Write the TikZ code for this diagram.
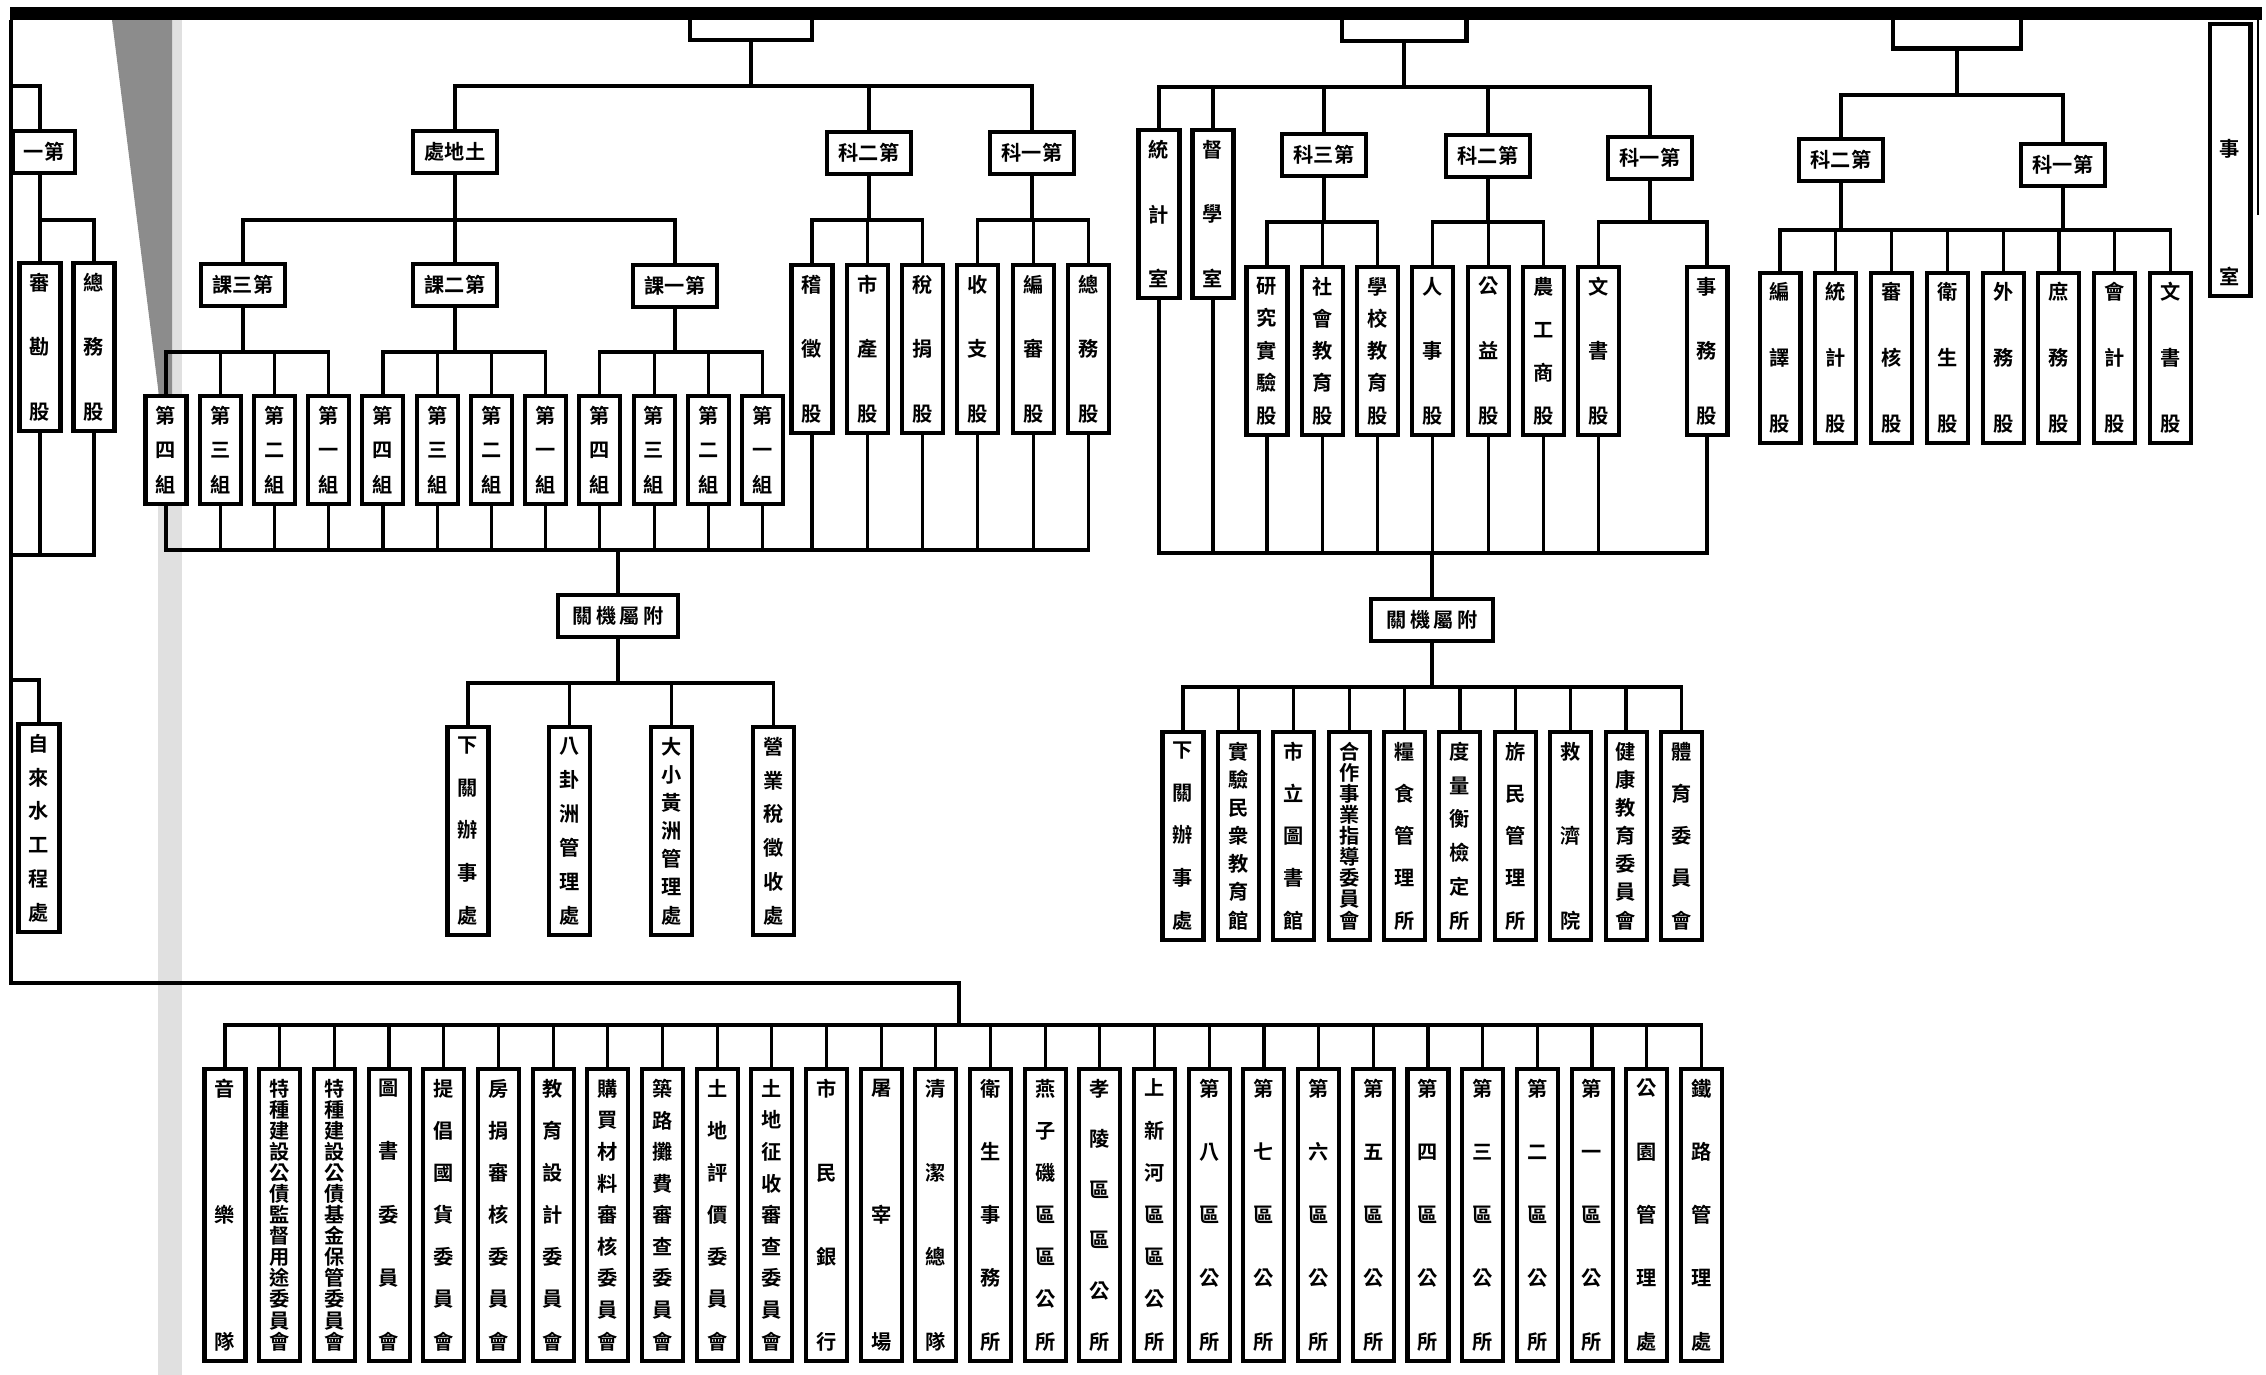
\documentclass[tikz,border=0pt]{standalone}
\usepackage{fontspec}
\newfontfamily\cjk{Noto Sans CJK TC Bold}
\usetikzlibrary{positioning}

% characters of a label set one under another, spread over the box
\ExplSyntaxOn
\NewDocumentCommand \vt { m m }
  {
    \parbox[c][#1][s]{1.2em}
      {
        \seq_clear:N \l_tmpa_seq
        \tl_map_inline:nn {#2}
          { \seq_put_right:Nn \l_tmpa_seq { \hbox_to_wd:nn {1.2em} { \hss ##1 \hss } } }
        \seq_use:Nn \l_tmpa_seq { \vfill }
      }
  }
\ExplSyntaxOff

\tikzset{
  link/.style={line width=1.8pt},
  hd/.style={draw, line width=2.3pt, fill=white, minimum width=1.69cm, minimum height=0.83cm,
    inner sep=1pt, font=\cjk\fontsize{11.5}{11.5}\selectfont},
  chief/.style={draw, line width=2.3pt, fill=white, minimum width=2.5cm, minimum height=0.6cm},
  col/.style={draw, line width=2.3pt, fill=white, minimum width=0.82cm, inner xsep=0pt,
    inner ysep=0.2cm, font=\cjk\fontsize{11.5}{11.5}\selectfont}
}

\begin{document}
\begin{tikzpicture}[x=0.02cm, y=-0.02cm]
  \useasboundingbox (0,0) rectangle (2266,1375);
  % shadow of the binding
  \fill[black!12] (158,20) rectangle (182,1375);
  \fill[black!45] (112,20) -- (172,20) -- (172,420) -- (162,420) -- cycle;
  % heights of the buses
  \coordinate (bL0) at (0,86);  \coordinate (bL1) at (0,220); \coordinate (bL2) at (0,555); \coordinate (bL3) at (0,680);
  \coordinate (bA0) at (0,86);  \coordinate (bA1) at (0,220); \coordinate (bA2) at (0,352);
  \coordinate (bA3) at (0,550); \coordinate (bA4) at (0,683);
  \coordinate (bB0) at (0,87);  \coordinate (bB1) at (0,222); \coordinate (bB2) at (0,553); \coordinate (bB3) at (0,687);
  \coordinate (bC0) at (0,95);  \coordinate (bC1) at (0,230);
  \coordinate (bZ) at (0,1025);
  \coordinate (t0) at (11,20); \coordinate (t1) at (11,983); \coordinate (t2) at (959,983);

  % left edge
  \node[hd, minimum width=1.25cm] (L1) at (44,152) {一第};
  \node[col] (la) at (40,347) {\vt{2.92cm}{審勘股}};
  \node[col] (lb) at (94,347) {\vt{2.92cm}{總務股}};
  \node[col] (ls) at (39,828) {\vt{3.72cm}{自來水工程處}};

  % first bureau
  \node[chief, minimum width=2.45cm, minimum height=0.56cm] (tA) at (751,26) {};
  \node[hd] (ld) at (455,152) {處地土};
  \node[hd] (fA2) at (869,153) {科二第};
  \node[hd] (fA1) at (1032,153) {科一第};
  \node[hd] (s3) at (243,285) {課三第};
  \node[hd] (s2) at (455,285) {課二第};
  \node[hd] (s1) at (675,286) {課一第};
  \node[col] (g34) at (166,450) {\vt{1.72cm}{第四組}};
  \node[col, right=0.184cm of g34] (g33) {\vt{1.72cm}{第三組}};
  \node[col, right=0.184cm of g33] (g32) {\vt{1.72cm}{第二組}};
  \node[col, right=0.184cm of g32] (g31) {\vt{1.72cm}{第一組}};
  \node[col, right=0.184cm of g31] (g24) {\vt{1.72cm}{第四組}};
  \node[col, right=0.184cm of g24] (g23) {\vt{1.72cm}{第三組}};
  \node[col, right=0.184cm of g23] (g22) {\vt{1.72cm}{第二組}};
  \node[col, right=0.184cm of g22] (g21) {\vt{1.72cm}{第一組}};
  \node[col, right=0.184cm of g21] (g14) {\vt{1.72cm}{第四組}};
  \node[col, right=0.184cm of g14] (g13) {\vt{1.72cm}{第三組}};
  \node[col, right=0.184cm of g13] (g12) {\vt{1.72cm}{第二組}};
  \node[col, right=0.184cm of g12] (g11) {\vt{1.72cm}{第一組}};
  \node[col] (a1) at (812,349) {\vt{2.92cm}{稽徵股}};
  \node[col, right=0.205cm of a1] (a2) {\vt{2.92cm}{市產股}};
  \node[col, right=0.205cm of a2] (a3) {\vt{2.92cm}{稅捐股}};
  \node[col, right=0.205cm of a3] (a4) {\vt{2.92cm}{收支股}};
  \node[col, right=0.205cm of a4] (a5) {\vt{2.92cm}{編審股}};
  \node[col, right=0.205cm of a5] (a6) {\vt{2.92cm}{總務股}};
  \node[hd, minimum width=2.4cm] (aA) at (618,616) {關\,機\,屬\,附};
  \node[col] (q1) at (468,831) {\vt{3.72cm}{下關辦事處}};
  \node[col, right=1.135cm of q1] (q2) {\vt{3.72cm}{八卦洲管理處}};
  \node[col, right=1.135cm of q2] (q3) {\vt{3.72cm}{大小黃洲管理處}};
  \node[col, right=1.135cm of q3] (q4) {\vt{3.72cm}{營業稅徵收處}};

  % second bureau
  \node[chief, minimum height=0.52cm] (tB) at (1404,28) {};
  \node[col] (r1) at (1159,214) {\vt{2.94cm}{統計室}};
  \node[col] (r2) at (1213,214) {\vt{2.94cm}{督學室}};
  \node[hd] (eB3) at (1324,155) {科三第};
  \node[hd] (eB2) at (1488,156) {科二第};
  \node[hd] (eB1) at (1650,158) {科一第};
  \node[col] (b31) at (1267,351) {\vt{2.92cm}{研究實驗股}};
  \node[col, right=0.205cm of b31] (b32) {\vt{2.92cm}{社會教育股}};
  \node[col, right=0.205cm of b32] (b33) {\vt{2.92cm}{學校教育股}};
  \node[col, right=0.205cm of b33] (b21) {\vt{2.92cm}{人事股}};
  \node[col, right=0.205cm of b21] (b22) {\vt{2.92cm}{公益股}};
  \node[col, right=0.205cm of b22] (b23) {\vt{2.92cm}{農工商股}};
  \node[col, right=0.205cm of b23] (b11) {\vt{2.92cm}{文書股}};
  \node[col] (b12) at (1707,351) {\vt{2.92cm}{事務股}};
  \node[hd, minimum width=2.45cm] (aB) at (1432,620) {關\,機\,屬\,附};
  \node[col] (p1) at (1183,836) {\vt{3.72cm}{下關辦事處}};
  \node[col, right=0.207cm of p1] (p2) {\vt{3.72cm}{實驗民衆教育館}};
  \node[col, right=0.207cm of p2] (p3) {\vt{3.72cm}{市立圖書館}};
  \node[col, right=0.207cm of p3] (p4) {\vt{3.72cm}{合作事業指導委員會}};
  \node[col, right=0.207cm of p4] (p5) {\vt{3.72cm}{糧食管理所}};
  \node[col, right=0.207cm of p5] (p6) {\vt{3.72cm}{度量衡檢定所}};
  \node[col, right=0.207cm of p6] (p7) {\vt{3.72cm}{旂民管理所}};
  \node[col, right=0.207cm of p7] (p8) {\vt{3.72cm}{救濟院}};
  \node[col, right=0.207cm of p8] (p9) {\vt{3.72cm}{健康教育委員會}};
  \node[col, right=0.207cm of p9] (p10) {\vt{3.72cm}{體育委員會}};

  % third office
  \node[chief, minimum width=2.55cm, minimum height=0.62cm] (tC) at (1957,33) {};
  \node[hd] (cC2) at (1841,160) {科二第};
  \node[hd] (cC1) at (2063,165) {科一第};
  \node[col] (k1) at (1780,358) {\vt{2.98cm}{編譯股}};
  \node[col, right=0.215cm of k1] (k2) {\vt{2.98cm}{統計股}};
  \node[col, right=0.215cm of k2] (k3) {\vt{2.98cm}{審核股}};
  \node[col, right=0.215cm of k3] (k4) {\vt{2.98cm}{衛生股}};
  \node[col, right=0.215cm of k4] (k5) {\vt{2.98cm}{外務股}};
  \node[col, right=0.215cm of k5] (k6) {\vt{2.98cm}{庶務股}};
  \node[col, right=0.215cm of k6] (k7) {\vt{2.98cm}{會計股}};
  \node[col, right=0.215cm of k7] (k8) {\vt{2.98cm}{文書股}};
  \node[col] (rs) at (2230,160) {\parbox[c][5cm][s]{1.2em}{\centering\vspace*{2.1cm}事\par\vfill 室}};

  % bottom row
  \node[col] (z1) at (225,1215) {\vt{5.4cm}{音樂隊}};
  \node[col, right=0.193cm of z1] (z2) {\vt{5.4cm}{特種建設公債監督用途委員會}};
  \node[col, right=0.193cm of z2] (z3) {\vt{5.4cm}{特種建設公債基金保管委員會}};
  \node[col, right=0.193cm of z3] (z4) {\vt{5.4cm}{圖書委員會}};
  \node[col, right=0.193cm of z4] (z5) {\vt{5.4cm}{提倡國貨委員會}};
  \node[col, right=0.193cm of z5] (z6) {\vt{5.4cm}{房捐審核委員會}};
  \node[col, right=0.193cm of z6] (z7) {\vt{5.4cm}{教育設計委員會}};
  \node[col, right=0.193cm of z7] (z8) {\vt{5.4cm}{購買材料審核委員會}};
  \node[col, right=0.193cm of z8] (z9) {\vt{5.4cm}{築路攤費審查委員會}};
  \node[col, right=0.193cm of z9] (z10) {\vt{5.4cm}{土地評價委員會}};
  \node[col, right=0.193cm of z10] (z11) {\vt{5.4cm}{土地征收審查委員會}};
  \node[col, right=0.193cm of z11] (z12) {\vt{5.4cm}{市民銀行}};
  \node[col, right=0.193cm of z12] (z13) {\vt{5.4cm}{屠宰場}};
  \node[col, right=0.193cm of z13] (z14) {\vt{5.4cm}{清潔總隊}};
  \node[col, right=0.193cm of z14] (z15) {\vt{5.4cm}{衛生事務所}};
  \node[col, right=0.193cm of z15] (z16) {\vt{5.4cm}{燕子磯區區公所}};
  \node[col, right=0.193cm of z16] (z17) {\vt{5.4cm}{孝陵區區公所}};
  \node[col, right=0.193cm of z17] (z18) {\vt{5.4cm}{上新河區區公所}};
  \node[col, right=0.193cm of z18] (z19) {\vt{5.4cm}{第八區公所}};
  \node[col, right=0.193cm of z19] (z20) {\vt{5.4cm}{第七區公所}};
  \node[col, right=0.193cm of z20] (z21) {\vt{5.4cm}{第六區公所}};
  \node[col, right=0.193cm of z21] (z22) {\vt{5.4cm}{第五區公所}};
  \node[col, right=0.193cm of z22] (z23) {\vt{5.4cm}{第四區公所}};
  \node[col, right=0.193cm of z23] (z24) {\vt{5.4cm}{第三區公所}};
  \node[col, right=0.193cm of z24] (z25) {\vt{5.4cm}{第二區公所}};
  \node[col, right=0.193cm of z25] (z26) {\vt{5.4cm}{第一區公所}};
  \node[col, right=0.193cm of z26] (z27) {\vt{5.4cm}{公園管理處}};
  \node[col, right=0.193cm of z27] (z28) {\vt{5.4cm}{鐵路管理處}};

  % trunk and left edge
  \draw[link] (t0) -- (t1) -- (t2) -- (t2 |- bZ);
  \draw[link] (t0 |- bL0) -| (L1.north -| la.north);
  \draw[link] (L1.south -| la.north) -- (la.north) (la.north |- bL1) -| (lb.north);
  \draw[link] (la.south) -- (la.south |- bL2) (lb.south) |- (t0 |- bL2);
  \draw[link] (t0 |- bL3) -| (ls.north);

  % first bureau
  \draw[link] (tA.south) |- (ld.north |- bA0) -- (ld.north) (tA.south) |- (fA1.north |- bA0) -- (fA1.north)
    (fA2.north |- bA0) -- (fA2.north);
  \draw[link] (ld.south) |- (s3.north |- bA1) -- (s3.north) (ld.south) |- (s1.north |- bA1) -- (s1.north)
    (s2.north |- bA1) -- (s2.north);
  \draw[link] (s3.south) |- (g34.north |- bA2) -- (g34.north) (s3.south) |- (g31.north |- bA2) -- (g31.north)
    (g33.north |- bA2) -- (g33.north) (g32.north |- bA2) -- (g32.north);
  \draw[link] (s2.south) |- (g24.north |- bA2) -- (g24.north) (s2.south) |- (g21.north |- bA2) -- (g21.north)
    (g23.north |- bA2) -- (g23.north) (g22.north |- bA2) -- (g22.north);
  \draw[link] (s1.south) |- (g14.north |- bA2) -- (g14.north) (s1.south) |- (g11.north |- bA2) -- (g11.north)
    (g13.north |- bA2) -- (g13.north) (g12.north |- bA2) -- (g12.north);
  \draw[link] (fA2.south) |- (a1.north |- bA1) -- (a1.north) (fA2.south) |- (a3.north |- bA1) -- (a3.north)
    (a2.north |- bA1) -- (a2.north);
  \draw[link] (fA1.south) |- (a4.north |- bA1) -- (a4.north) (fA1.south) |- (a6.north |- bA1) -- (a6.north)
    (a5.north |- bA1) -- (a5.north);
  \draw[link] (g34.south) |- (a6.south |- bA3) -- (a6.south)
    (g33.south) -- (g33.south |- bA3) (g32.south) -- (g32.south |- bA3) (g31.south) -- (g31.south |- bA3)
    (g24.south) -- (g24.south |- bA3) (g23.south) -- (g23.south |- bA3) (g22.south) -- (g22.south |- bA3)
    (g21.south) -- (g21.south |- bA3) (g14.south) -- (g14.south |- bA3) (g13.south) -- (g13.south |- bA3)
    (g12.south) -- (g12.south |- bA3) (g11.south) -- (g11.south |- bA3) (a1.south) -- (a1.south |- bA3)
    (a2.south) -- (a2.south |- bA3) (a3.south) -- (a3.south |- bA3) (a4.south) -- (a4.south |- bA3)
    (a5.south) -- (a5.south |- bA3) (aA.north |- bA3) -- (aA.north);
  \draw[link] (aA.south) |- (q1.north |- bA4) -- (q1.north) (aA.south) |- (q4.north |- bA4) -- (q4.north)
    (q2.north |- bA4) -- (q2.north) (q3.north |- bA4) -- (q3.north);

  % second bureau
  \draw[link] (tB.south) |- (r1.north |- bB0) -- (r1.north) (tB.south) |- (eB1.north |- bB0) -- (eB1.north)
    (r2.north |- bB0) -- (r2.north) (eB3.north |- bB0) -- (eB3.north) (eB2.north |- bB0) -- (eB2.north);
  \draw[link] (eB3.south) |- (b31.north |- bB1) -- (b31.north) (eB3.south) |- (b33.north |- bB1) -- (b33.north)
    (b32.north |- bB1) -- (b32.north);
  \draw[link] (eB2.south) |- (b21.north |- bB1) -- (b21.north) (eB2.south) |- (b23.north |- bB1) -- (b23.north)
    (b22.north |- bB1) -- (b22.north);
  \draw[link] (eB1.south) |- (b11.north |- bB1) -- (b11.north) (eB1.south) |- (b12.north |- bB1) -- (b12.north);
  \draw[link] (r1.south) |- (b12.south |- bB2) -- (b12.south)
    (r2.south) -- (r2.south |- bB2) (b31.south) -- (b31.south |- bB2) (b32.south) -- (b32.south |- bB2)
    (b33.south) -- (b33.south |- bB2) (b21.south) -- (b21.south |- bB2) (b22.south) -- (b22.south |- bB2)
    (b23.south) -- (b23.south |- bB2) (b11.south) -- (b11.south |- bB2) (aB.north |- bB2) -- (aB.north);
  \draw[link] (aB.south) |- (p1.north |- bB3) -- (p1.north) (aB.south) |- (p10.north |- bB3) -- (p10.north)
    (p2.north |- bB3) -- (p2.north) (p3.north |- bB3) -- (p3.north) (p4.north |- bB3) -- (p4.north)
    (p5.north |- bB3) -- (p5.north) (p6.north |- bB3) -- (p6.north) (p7.north |- bB3) -- (p7.north)
    (p8.north |- bB3) -- (p8.north) (p9.north |- bB3) -- (p9.north);

  % third office
  \draw[link] (tC.south) |- (cC2.north |- bC0) -- (cC2.north) (tC.south) |- (cC1.north |- bC0) -- (cC1.north);
  \draw[link] (cC2.south) |- (k1.north |- bC1) -- (k1.north) (cC2.south) |- (k3.north |- bC1) -- (k3.north)
    (k2.north |- bC1) -- (k2.north);
  \draw[link] (cC1.south) |- (k3.north |- bC1) (cC1.south) |- (k8.north |- bC1) -- (k8.north)
    (k4.north |- bC1) -- (k4.north) (k5.north |- bC1) -- (k5.north) (k6.north |- bC1) -- (k6.north)
    (k7.north |- bC1) -- (k7.north);

  % bottom row
  \draw[link] (z1.north) |- (z28.north |- bZ) -- (z28.north)
    (z2.north |- bZ) -- (z2.north) (z3.north |- bZ) -- (z3.north) (z4.north |- bZ) -- (z4.north)
    (z5.north |- bZ) -- (z5.north) (z6.north |- bZ) -- (z6.north) (z7.north |- bZ) -- (z7.north)
    (z8.north |- bZ) -- (z8.north) (z9.north |- bZ) -- (z9.north) (z10.north |- bZ) -- (z10.north)
    (z11.north |- bZ) -- (z11.north) (z12.north |- bZ) -- (z12.north) (z13.north |- bZ) -- (z13.north)
    (z14.north |- bZ) -- (z14.north) (z15.north |- bZ) -- (z15.north) (z16.north |- bZ) -- (z16.north)
    (z17.north |- bZ) -- (z17.north) (z18.north |- bZ) -- (z18.north) (z19.north |- bZ) -- (z19.north)
    (z20.north |- bZ) -- (z20.north) (z21.north |- bZ) -- (z21.north) (z22.north |- bZ) -- (z22.north)
    (z23.north |- bZ) -- (z23.north) (z24.north |- bZ) -- (z24.north) (z25.north |- bZ) -- (z25.north)
    (z26.north |- bZ) -- (z26.north) (z27.north |- bZ) -- (z27.north);

  % black edge of the sheet
  \fill (10,7) rectangle (2262,20);
  \draw[line width=1pt] (2258,20) -- (2258,215);
\end{tikzpicture}
\end{document}
